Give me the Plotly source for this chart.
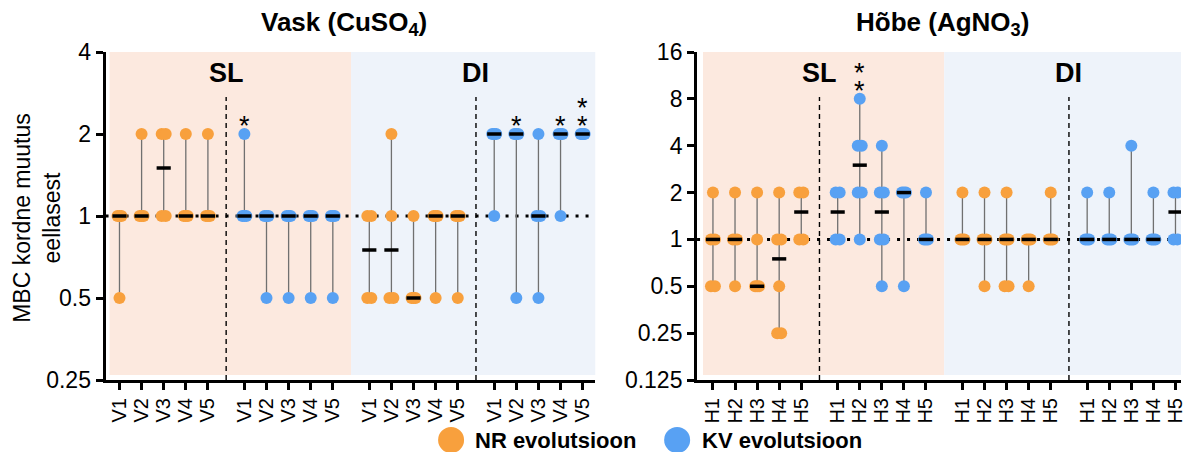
import numpy as np
import plotly.graph_objects as go

# ---- data: fold change of MBC relative to the ancestor, per replicate ----
vask_labels = ["V1", "V2", "V3", "V4", "V5"]
hobe_labels = ["H1", "H2", "H3", "H4", "H5"]

# Vask (CuSO4)
vask_sl_nr = [[0.5, 1, 1, 1], [1, 1, 1, 2], [1, 1, 2, 2], [1, 1, 1, 2], [1, 1, 1, 2]]
vask_sl_kv = [[1, 1, 1, 2], [0.5, 1, 1, 1], [0.5, 1, 1, 1], [0.5, 1, 1, 1], [0.5, 1, 1, 1]]
vask_di_nr = [[0.5, 0.5, 1, 1], [0.5, 0.5, 1, 2], [0.5, 0.5, 0.5, 1], [0.5, 1, 1, 1], [0.5, 1, 1, 1]]
vask_di_kv = [[1, 2, 2, 2], [0.5, 2, 2, 2], [0.5, 1, 1, 2], [1, 2, 2, 2], [2, 2, 2, 2]]
vask_sl_kv_stars = [1, 0, 0, 0, 0]
vask_di_kv_stars = [0, 1, 0, 1, 2]

# Hõbe (AgNO3)
hobe_sl_nr = [[0.5, 0.5, 1, 1, 2], [0.5, 1, 1, 2], [0.5, 0.5, 0.5, 1, 2], [0.25, 0.25, 0.5, 1, 1, 2], [1, 1, 2, 2]]
hobe_sl_kv = [[1, 1, 2, 2], [1, 2, 2, 4, 4, 8], [0.5, 1, 1, 2, 2, 4], [0.5, 2, 2, 2], [1, 1, 1, 2]]
hobe_di_nr = [[1, 1, 1, 2], [0.5, 1, 1, 2], [0.5, 0.5, 1, 1, 1, 2], [0.5, 1, 1, 1], [1, 1, 1, 2]]
hobe_di_kv = [[1, 1, 1, 2], [1, 1, 1, 2], [1, 1, 1, 4], [1, 1, 1, 2], [1, 1, 2, 2]]
hobe_sl_kv_stars = [0, 2, 0, 0, 0]

vask_yticks = [0.25, 0.5, 1, 2, 4]
hobe_yticks = [0.125, 0.25, 0.5, 1, 2, 4, 8, 16]

# ---- styling ----
W, H = 1186, 452
TOP, BOT = 52, 380
FONT = "Liberation Sans, Arial, Helvetica, sans-serif"
ORANGE = "#F8A03D"
BLUE = "#58A1F3"
SL_BG = "#FCE9DF"
DI_BG = "#EEF3FA"
GROUP_STEP = 5.65
JIT = 0.09
BAR_HALF = 0.32


def px_x(px):
    return px / W


def px_y(py):
    return (BOT - py) / (BOT - TOP)


fig = go.Figure()
annotations = []


def add_panel(xa, ya, groups, stars):
    """groups: list of (values-per-column, colour); stars: group index -> star counts"""
    xs_line, ys_line = [], []
    xs_med, ys_med = [], []
    point_traces = []
    for g, (cols, colour) in enumerate(groups):
        px_, py_ = [], []
        for i, vals in enumerate(cols):
            xc = g * GROUP_STEP + i
            vals = np.array(vals, dtype=float)
            xs_line += [xc, xc, None]
            ys_line += [vals.min(), vals.max(), None]
            for v in np.unique(vals):
                k = int((vals == v).sum())
                offs = np.linspace(-JIT, JIT, k) if k > 1 else [0.0]
                for o in offs:
                    px_.append(xc + o)
                    py_.append(v)
            med = float(np.median(vals))
            xs_med += [xc - BAR_HALF, xc + BAR_HALF, None]
            ys_med += [med, med, None]
            if g in stars:
                for k in range(stars[g][i]):
                    annotations.append(dict(x=xc, y=np.log10(vals.max()), xref=xa, yref=ya,
                                            text="*", showarrow=False, xanchor="center",
                                            yanchor="middle", yshift=8 + 18 * k,
                                            font=dict(family=FONT, size=27, color="black")))
        point_traces.append(go.Scatter(x=px_, y=py_, mode="markers", xaxis=xa, yaxis=ya,
                                       marker=dict(size=12, color=colour, line=dict(width=0)),
                                       showlegend=False, hoverinfo="skip"))
    # range lines under the points, median bars on top
    fig.add_trace(go.Scatter(x=xs_line, y=ys_line, mode="lines", xaxis=xa, yaxis=ya,
                             line=dict(color="#707070", width=1.3),
                             showlegend=False, hoverinfo="skip"))
    for tr in point_traces:
        fig.add_trace(tr)
    fig.add_trace(go.Scatter(x=xs_med, y=ys_med, mode="lines", xaxis=xa, yaxis=ya,
                             line=dict(color="black", width=3.5),
                             showlegend=False, hoverinfo="skip"))


add_panel("x", "y",
          [(vask_sl_nr, ORANGE), (vask_sl_kv, BLUE), (vask_di_nr, ORANGE), (vask_di_kv, BLUE)],
          {1: vask_sl_kv_stars, 3: vask_di_kv_stars})
add_panel("x2", "y2",
          [(hobe_sl_nr, ORANGE), (hobe_sl_kv, BLUE), (hobe_di_nr, ORANGE), (hobe_di_kv, BLUE)],
          {1: hobe_sl_kv_stars})

tickpos = [g * GROUP_STEP + i for g in range(4) for i in range(5)]
mid_sl = 4 + (GROUP_STEP - 4) / 2
mid_region = GROUP_STEP + 4 + (GROUP_STEP - 4) / 2
mid_di = 2 * GROUP_STEP + 4 + (GROUP_STEP - 4) / 2

shapes = []
for xa, ya, xmax in (("x", "y", 21.53), ("x2", "y2", 21.4)):
    shapes += [
        dict(type="rect", xref=xa, yref=ya + " domain", x0=-0.45, x1=mid_region, y0=0.015, y1=1,
             fillcolor=SL_BG, line=dict(width=0), layer="below"),
        dict(type="rect", xref=xa, yref=ya + " domain", x0=mid_region, x1=xmax, y0=0.015, y1=1,
             fillcolor=DI_BG, line=dict(width=0), layer="below"),
        dict(type="line", xref=xa + " domain", yref=ya, x0=0, x1=1, y0=1, y1=1,
             line=dict(color="black", width=3, dash="3px,7px"), layer="below"),
    ]
    for xm in (mid_sl, mid_di):
        shapes.append(dict(type="line", xref=xa, yref=ya + " domain", x0=xm, x1=xm,
                           y0=0, y1=px_y(97), line=dict(color="black", width=1.4, dash="5px,4px"),
                           layer="below"))

for xa, ya in (("x", "y"), ("x2", "y2")):
    for xm, lab in ((mid_sl, "SL"), (mid_di, "DI")):
        annotations.append(dict(x=xm, y=px_y(73), xref=xa, yref=ya + " domain", text=f"<b>{lab}</b>",
                                xanchor="center", yanchor="middle", showarrow=False,
                                font=dict(family=FONT, size=27, color="black")))


def paper_text(cx, cy, text, size, **kw):
    d = dict(x=px_x(cx), y=px_y(cy), xref="paper", yref="paper", text=text, showarrow=False,
             xanchor="center", yanchor="middle", font=dict(family=FONT, size=size, color="black"))
    d.update(kw)
    return d


annotations += [
    paper_text(345, 24, "<b>Vask (CuSO<sub>4</sub>)</b>", 26),
    paper_text(946, 24, "<b>Hõbe (AgNO<sub>3</sub>)</b>", 26),
    paper_text(37, 218, "MBC kordne muutus<br>eellasest", 23, textangle=-90),
    paper_text(475, 440, "<b>NR evolutsioon</b>", 22, xanchor="left"),
    paper_text(703, 440, "<b>KV evolutsioon</b>", 22, xanchor="left"),
]
for cx, col in ((453, ORANGE), (680, BLUE)):
    shapes.append(dict(type="circle", xref="paper", yref="paper", xsizemode="pixel", ysizemode="pixel",
                       xanchor=px_x(cx), yanchor=px_y(440), x0=-13, x1=13, y0=-13, y1=13,
                       fillcolor=col, line=dict(width=0)))

xcommon = dict(showgrid=False, zeroline=False, showline=True, linecolor="black", linewidth=3,
               ticks="outside", ticklen=7, tickwidth=3, tickcolor="black", tickangle=-90,
               ticklabeloverflow="allow",
               tickfont=dict(family=FONT, size=20, color="black"), tickvals=tickpos)
ycommon = dict(type="log", showgrid=False, zeroline=False, showline=True, linecolor="black",
               linewidth=3, ticks="outside", ticklen=7, tickwidth=3, tickcolor="black",
               tickfont=dict(family=FONT, size=23, color="black"))

fig.update_layout(
    width=W, height=H, margin=dict(l=0, r=0, t=TOP, b=H - BOT),
    paper_bgcolor="white", plot_bgcolor="white", showlegend=False,
    xaxis=dict(xcommon, domain=[px_x(106), px_x(598)], range=[-0.63, 21.53],
               ticktext=vask_labels * 4, anchor="y"),
    yaxis=dict(ycommon, range=[np.log10(0.25), np.log10(4)], tickvals=vask_yticks,
               ticktext=[f"{v:g}" for v in vask_yticks], anchor="x"),
    xaxis2=dict(xcommon, domain=[px_x(700), 1.0], range=[-0.72, 21.2],
                ticktext=hobe_labels * 4, anchor="y2"),
    yaxis2=dict(ycommon, range=[np.log10(0.125), np.log10(16)], tickvals=hobe_yticks,
                ticktext=[f"{v:g}" for v in hobe_yticks], anchor="x2"),
    shapes=shapes,
)
fig.layout.annotations = annotations

fig.write_html("out.html")
